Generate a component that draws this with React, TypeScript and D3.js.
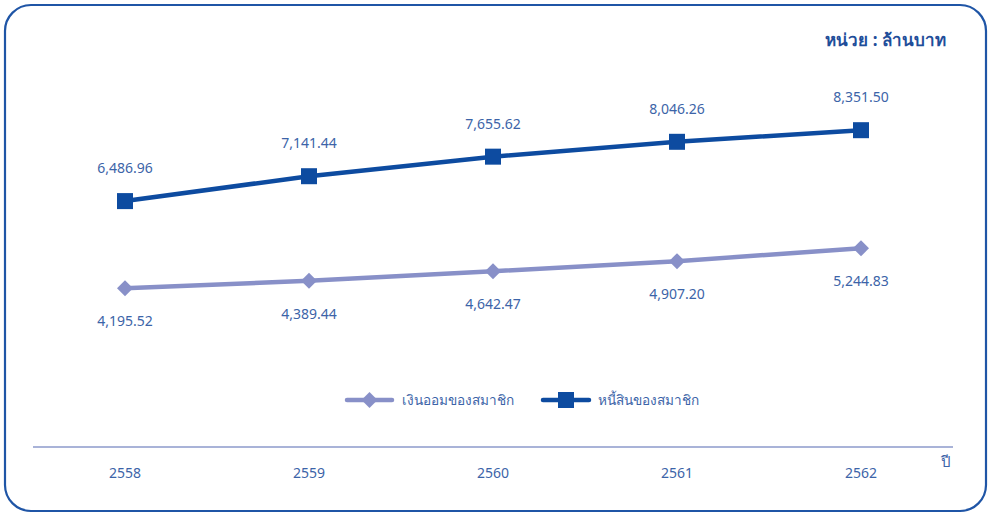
import React from "react";
import * as d3 from "d3";

const years = ["2558", "2559", "2560", "2561", "2562"];
const savings = [4195.52, 4389.44, 4642.47, 4907.2, 5244.83];
const debts = [6486.96, 7141.44, 7655.62, 8046.26, 8351.5];
const seriesNames = ["เงินออมของสมาชิก", "หนี้สินของสมาชิก"];
const unitLabel = "หน่วย : ล้านบาท";
const axisUnit = "ปี";

const W = 992, H = 514;
const LIGHT = "#8890c8";
const DARK = "#0d4ba0";
const TEXT = "#3c64a8";
const FONT = "'Noto Sans', 'DejaVu Sans', sans-serif";

export default function App() {
  const x = d3.scaleBand<string>().domain(years).range([33, 953]);
  const y = d3.scaleLinear().domain([0, 10000]).range([447.8, 67.5]);
  const cx = (d: string) => (x(d) as number) + x.bandwidth() / 2;
  const line = d3.line<[string, number]>().x((d) => cx(d[0])).y((d) => y(d[1]));
  const sData = years.map((yr, i) => [yr, savings[i]] as [string, number]);
  const dData = years.map((yr, i) => [yr, debts[i]] as [string, number]);
  const fmt = d3.format(",.2f");
  const diamond = (px: number, py: number, r: number) =>
    `M${px},${py - r}L${px + r},${py}L${px},${py + r}L${px - r},${py}Z`;

  return (
    <svg width={W} height={H} style={{ position: "absolute", left: 0, top: 0 }} fontFamily={FONT}>
      <rect x={5} y={5} width={981} height={506} rx={26} ry={26} fill="#fff" stroke="#1f55a6" strokeWidth={2.2} />
      <text x={946} y={46} textAnchor="end" fontSize={17} fontWeight="bold" fill="#1f4e9a">{unitLabel}</text>
      <line x1={33} x2={953} y1={447} y2={447} stroke="#a9b3d8" strokeWidth={2} />
      {years.map((yr) => (
        <text key={yr} x={cx(yr)} y={478} textAnchor="middle" fontSize={14} fill={TEXT}>{yr}</text>
      ))}
      <text x={946} y={467} textAnchor="middle" fontSize={15} fill={TEXT}>{axisUnit}</text>
      <path d={line(sData) as string} fill="none" stroke={LIGHT} strokeWidth={4.5} />
      <path d={line(dData) as string} fill="none" stroke={DARK} strokeWidth={4.5} />
      {sData.map(([yr, v]) => (
        <g key={"s" + yr}>
          <path d={diamond(cx(yr), y(v), 8)} fill={LIGHT} />
          <text x={cx(yr)} y={y(v) + 38} textAnchor="middle" fontSize={14} fill={TEXT}>{fmt(v)}</text>
        </g>
      ))}
      {dData.map(([yr, v]) => (
        <g key={"d" + yr}>
          <rect x={cx(yr) - 8} y={y(v) - 8} width={16} height={16} fill={DARK} />
          <text x={cx(yr)} y={y(v) - 28} textAnchor="middle" fontSize={14} fill={TEXT}>{fmt(v)}</text>
        </g>
      ))}
      <line x1={347} x2={392} y1={400} y2={400} stroke={LIGHT} strokeWidth={4.5} strokeLinecap="round" />
      <path d={diamond(369.5, 400, 8)} fill={LIGHT} />
      <text x={402} y={405} fontSize={13.6} fill={TEXT}>{seriesNames[0]}</text>
      <line x1={543} x2={589} y1={400} y2={400} stroke={DARK} strokeWidth={4.5} strokeLinecap="round" />
      <rect x={558} y={392} width={16} height={16} fill={DARK} />
      <text x={598} y={405} fontSize={13.6} fill={TEXT}>{seriesNames[1]}</text>
    </svg>
  );
}
